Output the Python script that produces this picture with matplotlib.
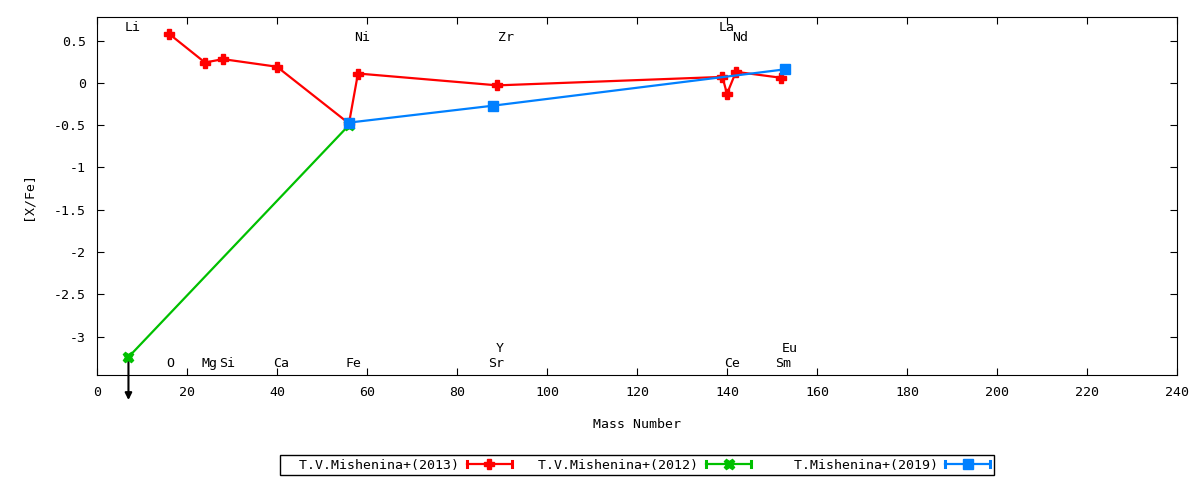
import matplotlib
matplotlib.use("Agg")
import matplotlib.pyplot as plt
from matplotlib.lines import Line2D
from matplotlib.legend_handler import HandlerLine2D

plt.rcParams['font.family'] = ['DejaVu Sans Mono']
plt.rcParams['font.size'] = 9.5

# data
mass_2013 = [16, 24, 28, 40, 56, 58, 89, 139, 140, 142, 152]
xfe_2013 = [0.58, 0.24, 0.28, 0.19, -0.48, 0.11, -0.03, 0.07, -0.13, 0.13, 0.06]
mass_2012 = [7, 56]
xfe_2012 = [-3.24, -0.50]
mass_2019 = [56, 88, 153]
xfe_2019 = [-0.47, -0.27, 0.16]

# element names and where they are written
elem_names = ["Li", "Ni", "Zr", "La", "Nd", "O", "Mg", "Si", "Ca", "Fe", "Sr", "Y", "Ce", "Sm", "Eu"]
elem_x = [7.9, 59, 90.8, 139.9, 143, 16.3, 25, 28.9, 41, 57, 88.8, 89.4, 141.2, 152.5, 154]
elem_y = [0.65, 0.54, 0.54, 0.65, 0.54, -3.32, -3.32, -3.32, -3.32, -3.32, -3.32, -3.14, -3.32, -3.32, -3.14]

col_2013 = "#ff0000"
col_2012 = "#00c000"
col_2019 = "#0080ff"


class CapHandler(HandlerLine2D):
    # gnuplot style key sample: line with end caps and marker in the middle
    def create_artists(self, legend, orig_handle, xdescent, ydescent, width, height, fontsize, trans):
        arts = super().create_artists(legend, orig_handle, xdescent, ydescent, width, height, fontsize, trans)
        yc = height / 2.0 - ydescent
        for xx in (-xdescent, width - xdescent):
            cap = Line2D([xx, xx], [yc - height * 0.35, yc + height * 0.35],
                         color=orig_handle.get_color(), lw=2.2, transform=trans)
            arts.append(cap)
        return arts


fig = plt.figure(figsize=(12, 4.8), dpi=100)
ax = fig.add_axes([0.0808, 0.219, 0.9, 0.746])

l1, = ax.plot(mass_2013, xfe_2013, color=col_2013, lw=1.6, marker="P", ms=7.5, mec=col_2013,
              label="  T.V.Mishenina+(2013)", zorder=3)
l2, = ax.plot(mass_2012, xfe_2012, color=col_2012, lw=1.6, marker="X", ms=7.5, mec=col_2012,
              label="  T.V.Mishenina+(2012)", zorder=4)
l3, = ax.plot(mass_2019, xfe_2019, color=col_2019, lw=1.6, marker="s", ms=7, mec=col_2019,
              label="    T.Mishenina+(2019)", zorder=5)

# upper limit arrow on the 2012 Li point
ax.annotate("", xy=(mass_2012[0], -3.78), xytext=(mass_2012[0], xfe_2012[0]),
            arrowprops=dict(arrowstyle="-|>", color="black", lw=1.5, mutation_scale=10),
            annotation_clip=False, zorder=2)

for name, xx, yy in zip(elem_names, elem_x, elem_y):
    ax.text(xx, yy, name, ha="center", va="center", fontsize=9.5)

ax.set_xlim(0, 240)
ax.set_ylim(-3.45, 0.78)
ax.set_xticks(range(0, 241, 20))
ax.set_yticks([0.5, 0, -0.5, -1, -1.5, -2, -2.5, -3])
ax.set_yticklabels(["0.5", "0", "-0.5", "-1", "-1.5", "-2", "-2.5", "-3"])
ax.tick_params(direction="in", top=True, right=True, length=5, pad=8)
ax.set_xlabel("Mass Number", labelpad=14)
ax.set_ylabel("[X/Fe]", labelpad=14)

leg = fig.legend(handles=[l1, l2, l3], loc="center", bbox_to_anchor=(0.5305, 0.031), ncol=3,
                 markerfirst=False, handlelength=3.4, columnspacing=0.8, handletextpad=0.6,
                 fancybox=False, edgecolor="black", framealpha=1, borderpad=0.25,
                 handler_map={Line2D: CapHandler()})
leg.get_frame().set_linewidth(1.0)

fig.savefig("out.png", dpi=100)
